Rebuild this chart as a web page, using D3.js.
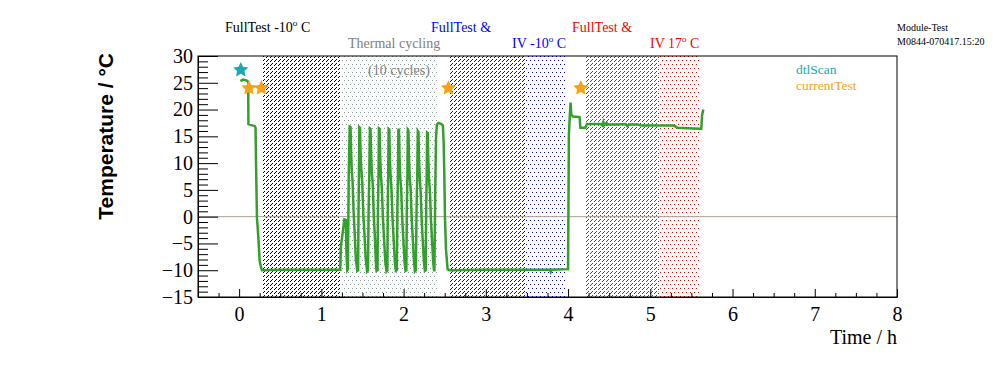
<!DOCTYPE html>
<html>
<head>
<meta charset="utf-8">
<script src="https://cdn.jsdelivr.net/npm/d3@7"></script>
<style>
body { margin: 0; background: #fff; }
svg { display: block; }
</style>
</head>
<body>
<svg></svg>
<script>
// test phases: [start, end] in hours, and what kind of shading each one gets
let phaseBounds = [[0.29, 1.23], [1.25, 2.41], [2.57, 3.48], [3.48, 3.98], [4.21, 5.10], [5.10, 5.59]];
let phaseKinds = ['black-hatch', 'gray-dots', 'blue-hatch', 'blue-dots', 'red-hatch', 'red-dots'];

// temperature log: [time / h, temperature / C]
let tempCurve = [
    [0.015, 25.3], [0.05, 25.6], [0.095, 25.4], [0.11, 25.2], [0.113, 17.3], [0.15, 17.1], [0.19, 16.9], [0.2, 16.6],
    [0.205, 10.6], [0.217, -0.2], [0.234, -3.9], [0.25, -8.3], [0.268, -9.6], [0.28, -10.0], [0.5, -9.9], [0.8, -9.9],
    [1.0, -9.9], [1.23, -9.9],
    [1.238, -5.5], [1.262, -2.7], [1.28, -0.5], [1.298, -0.6], [1.305, -6.5], [1.315, -10], [1.323, -9.8], [1.333, 7.8],
    [1.345, 16.8], [1.355, 16.7], [1.362, 12], [1.37, 8.5], [1.38, 6.5], [1.392, 1], [1.405, -3], [1.42, -8], [1.437, -10.1],
    [1.447, -10], [1.452, 1], [1.457, 8], [1.462, 16.7], [1.47, 16.6], [1.477, 12], [1.485, 9], [1.497, 6.5], [1.51, 0.5],
    [1.525, -3.5], [1.54, -8], [1.557, -10.2],
    [1.567, -10], [1.575, 1.5], [1.583, 8], [1.59, 16.5], [1.598, 16.4], [1.605, 12], [1.613, 8.5], [1.625, 6], [1.638, 0],
    [1.652, -4], [1.663, -8.5], [1.671, -10.1],
    [1.683, -10], [1.689, 2], [1.695, 7.5], [1.70, 16.5], [1.708, 16.4], [1.715, 11.5], [1.723, 8], [1.735, 5.5], [1.748, 0],
    [1.762, -4], [1.778, -8.5], [1.793, -10.2],
    [1.803, -10], [1.808, 2], [1.813, 8], [1.818, 16.4], [1.826, 16.3], [1.833, 11], [1.841, 8], [1.853, 5], [1.866, -0.5],
    [1.88, -4.5], [1.894, -8.5], [1.906, -10.1],
    [1.918, -10], [1.925, 1.5], [1.931, 7.5], [1.937, 16.4], [1.944, 16.2], [1.951, 11], [1.959, 7.5], [1.971, 5], [1.984, -0.5],
    [1.998, -4.5], [2.012, -8.5], [2.024, -10.1],
    [2.034, -10], [2.04, 2], [2.046, 7.5], [2.051, 16.2], [2.059, 16], [2.066, 11], [2.074, 7.5], [2.086, 5], [2.099, -0.5],
    [2.113, -4.5], [2.127, -8.5], [2.138, -10.2],
    [2.149, -10], [2.158, 1.5], [2.166, 7.5], [2.173, 16], [2.181, 15.8], [2.188, 10.5], [2.196, 7.5], [2.208, 4.5], [2.221, -1],
    [2.235, -5], [2.248, -8.5], [2.259, -10.1],
    [2.269, -10], [2.275, 2], [2.281, 7.5], [2.286, 15.7], [2.294, 15.6], [2.301, 10.5], [2.309, 7], [2.321, 4.5], [2.334, -1],
    [2.348, -5], [2.360, -8.5], [2.370, -10],
    [2.375, -10], [2.385, 5], [2.395, 15], [2.405, 17.2], [2.425, 17.5], [2.46, 17.3], [2.478, 17], [2.487, 14], [2.495, 8],
    [2.503, 0], [2.515, -6], [2.535, -9.8], [2.56, -10],
    [3.0, -9.9], [3.5, -9.9], [3.78, -9.9], [3.79, -10.3], [3.8, -9.9], [4.0, -9.8],
    [4.01, 15.3], [4.02, 18.5], [4.03, 21.3], [4.04, 19], [4.06, 18.7], [4.14, 18.6], [4.15, 16.6], [4.21, 16.6], [4.23, 17.3],
    [4.4, 17.3], [4.42, 17.0], [4.43, 17.6], [4.44, 17.1], [4.47, 17.5], [4.48, 17.2], [4.6, 17.2], [4.7, 17.3], [4.72, 16.9],
    [4.74, 17.2], [4.84, 17.2], [4.9, 17.0], [5.09, 17.0], [5.29, 17.0], [5.33, 16.6], [5.45, 16.5], [5.62, 16.4],
    [5.63, 19], [5.645, 20]
];

let dtlScanTimes = [0.02];
let dtlScanTemps = [27.4];
let currentTestTimes = [0.12, 0.27, 2.545, 4.155];
let currentTestTemps = [24, 24, 24, 24];

let xTicks = [0, 1, 2, 3, 4, 5, 6, 7, 8];
let yTicks = [-15, -10, -5, 0, 5, 10, 15, 20, 25, 30];

let width = 996;
let height = 372;
let frame = { left: 198, right: 897, top: 56, bottom: 297 };

let svg = d3.select('svg').attr('width', width).attr('height', height);
let serif = "'Liberation Serif', 'Times New Roman', serif";

let xScale = d3.scaleLinear().domain([-0.5, 8]).range([frame.left, frame.right]);
let yScale = d3.scaleLinear().domain([-15, 30]).range([frame.bottom, frame.top]);

let phaseStyle = {
    'black-hatch': { color: '#000', kind: 'hatch' },
    'gray-dots': { color: '#8a9898', kind: 'dots' },
    'blue-hatch': { color: '#0000ff', kind: 'hatch' },
    'blue-dots': { color: '#0000ff', kind: 'dots' },
    'red-hatch': { color: '#ff0000', kind: 'hatch' },
    'red-dots': { color: '#ff0000', kind: 'dots' }
};

let makePatterns = () => {
    let defs = svg.append('defs');
    Object.keys(phaseStyle).forEach((key) => {
        let st = phaseStyle[key];
        let hatch = st.kind === 'hatch';
        let p = defs.append('pattern')
            .attr('id', 'pat-' + key)
            .attr('patternUnits', 'userSpaceOnUse')
            .attr('width', 4).attr('height', hatch ? 4 : 8);
        let px = hatch ? [[3, 0], [2, 1], [0, 3]] : [[0, 0], [2, 4]];
        px.forEach((q) => {
            p.append('rect').attr('x', q[0]).attr('y', q[1]).attr('width', 1).attr('height', 1)
                .attr('fill', st.color).attr('shape-rendering', 'crispEdges');
        });
    });
};

let drawPhases = () => {
    svg.append('g').selectAll('rect')
        .data(phaseBounds)
        .join('rect')
        .attr('x', (d) => Math.round(xScale(d[0])))
        .attr('y', frame.top)
        .attr('width', (d) => Math.round(xScale(d[1])) - Math.round(xScale(d[0])))
        .attr('height', frame.bottom - frame.top)
        .attr('fill', (d, i) => 'url(#pat-' + phaseKinds[i] + ')');
};

let drawAxes = () => {
    let minorX = d3.range(-0.5, 8.01, 0.25).filter((v) => !xTicks.includes(v));
    let minorY = d3.range(-15, 30.1, 1).filter((v) => !yTicks.includes(v));

    let gx = svg.append('g').attr('transform', `translate(0,${frame.bottom})`)
        .call(d3.axisBottom(xScale).tickValues(xTicks).tickSizeInner(-8).tickSizeOuter(0).tickPadding(10));
    svg.append('g').attr('transform', `translate(0,${frame.bottom})`)
        .call(d3.axisBottom(xScale).tickValues(minorX).tickSizeInner(-4).tickSizeOuter(0).tickFormat(''))
        .select('.domain').remove();

    let gy = svg.append('g').attr('transform', `translate(${frame.left},0)`)
        .call(d3.axisLeft(yScale).tickValues(yTicks).tickSizeInner(-20).tickSizeOuter(0).tickPadding(5));
    svg.append('g').attr('transform', `translate(${frame.left},0)`)
        .call(d3.axisLeft(yScale).tickValues(minorY).tickSizeInner(-10).tickSizeOuter(0).tickFormat(''))
        .select('.domain').remove();

    [gx, gy].forEach((g) => {
        g.selectAll('text').attr('font-family', serif).attr('font-size', 20).attr('fill', '#000');
    });
    svg.selectAll('.tick line').attr('stroke', '#000');

    svg.append('rect')
        .attr('x', frame.left).attr('y', frame.top)
        .attr('width', frame.right - frame.left).attr('height', frame.bottom - frame.top)
        .attr('fill', 'none').attr('stroke', '#000').attr('stroke-width', 1);

    svg.append('text')
        .attr('x', frame.right).attr('y', 344)
        .attr('text-anchor', 'end')
        .attr('font-family', serif).attr('font-size', 20)
        .text('Time / h');

    svg.append('text')
        .attr('transform', `translate(113,53) rotate(-90)`)
        .attr('text-anchor', 'end')
        .attr('font-family', "'Liberation Sans', Arial, sans-serif")
        .attr('font-weight', 'bold').attr('font-size', 21)
        .text('Temperature / °C');
};

let drawZeroLine = () => {
    svg.append('line')
        .attr('x1', frame.left).attr('x2', frame.right)
        .attr('y1', yScale(0)).attr('y2', yScale(0))
        .attr('stroke', '#aaa098').attr('stroke-width', 1);
};

let drawCurve = () => {
    let line = d3.line().x((d) => xScale(d[0])).y((d) => yScale(d[1]));
    svg.append('path')
        .datum(tempCurve)
        .attr('d', line)
        .attr('fill', 'none')
        .attr('stroke', '#32a12c')
        .attr('stroke-width', 2.5)
        .attr('stroke-linejoin', 'miter');
};

// chunky five point star, like the ROOT marker
let fatStar = {
    draw: (context, size) => {
        let r = Math.sqrt(size);
        for (let i = 0; i < 10; i++) {
            let a = Math.PI / 5 * i - Math.PI / 2;
            let rr = i % 2 ? r * 0.48 : r;
            if (i === 0) context.moveTo(rr * Math.cos(a), rr * Math.sin(a));
            else context.lineTo(rr * Math.cos(a), rr * Math.sin(a));
        }
        context.closePath();
    }
};

let drawStars = (times, temps, color) => {
    svg.append('g').selectAll('path')
        .data(times)
        .join('path')
        .attr('transform', (d, i) => `translate(${xScale(d)},${yScale(temps[i])})`)
        .attr('d', d3.symbol().type(fatStar).size(64))
        .attr('fill', color);
};

// parts: plain strings, or {up: '...'} for a superscript
let label = (x, y, parts, color, size) => {
    let t = svg.append('text')
        .attr('x', x).attr('y', y)
        .attr('font-family', serif).attr('font-size', size)
        .attr('fill', color);
    parts.forEach((p) => {
        if (typeof p === 'object') {
            t.append('tspan').attr('font-size', size * 0.65).attr('dy', -size * 0.4).text(p.up);
            t.append('tspan').attr('dy', size * 0.4).text('\u00a0');
        } else {
            t.append('tspan').text(p);
        }
    });
};

let drawLabels = () => {
    label(225, 32, ['FullTest -10', { up: 'o' }, 'C'], '#000', 14);
    label(348, 48, ['Thermal cycling'], '#808080', 14);
    label(368, 75, ['(10 cycles)'], '#808080', 14);
    label(431, 32, ['FullTest &'], '#0000ff', 14);
    label(512, 48, ['IV -10', { up: 'o' }, 'C'], '#0000ff', 14);
    label(572, 32, ['FullTest &'], '#ff0000', 14);
    label(650, 48, ['IV 17', { up: 'o' }, 'C'], '#ff0000', 14);
    label(897, 31, ['Module-Test'], '#000', 10);
    label(897, 45, ['M0844-070417.15:20'], '#000', 10);
    label(796, 74, ['dtlScan'], '#1aa9b0', 13.5);
    label(796, 90, ['currentTest'], '#f5a214', 13.5);
};

makePatterns();
drawPhases();
drawZeroLine();
drawCurve();
drawAxes();
drawStars(dtlScanTimes, dtlScanTemps, '#1aa9b0');
drawStars(currentTestTimes, currentTestTemps, '#f5a214');
drawLabels();
</script>
</body>
</html>
